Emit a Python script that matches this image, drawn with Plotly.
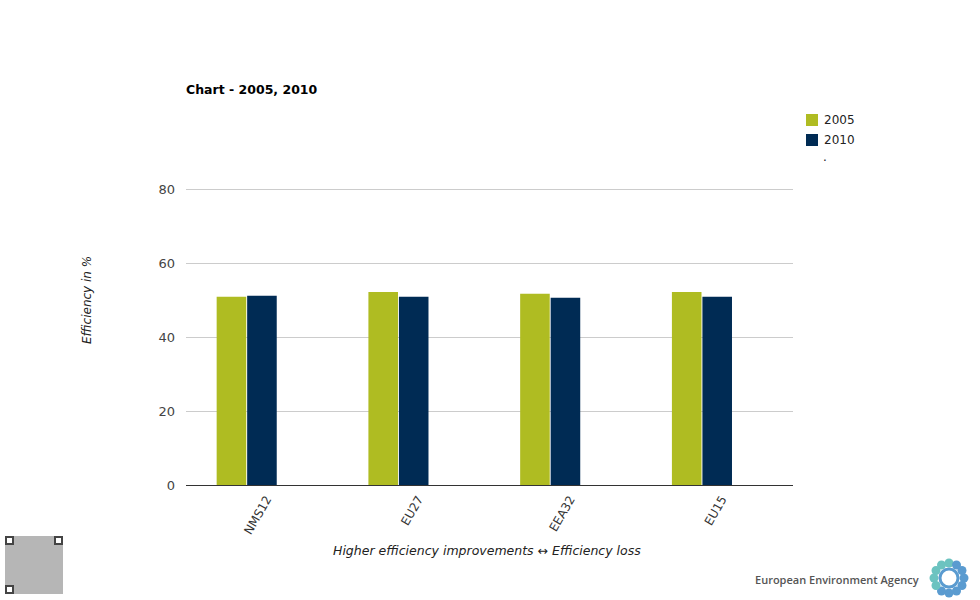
import math
import plotly.graph_objects as go

categories = ["NMS12", "EU27", "EEA32", "EU15"]
values_2005 = [50.9, 52.2, 51.7, 52.2]
values_2010 = [51.2, 50.9, 50.6, 50.9]
series_names = ["2005", "2010"]
colors = ["#afbc22", "#002b54"]
y_ticks = [0, 20, 40, 60, 80]

FONT = "DejaVu Sans"

# plot area in pixels
L, R, T, B = 186, 793, 188, 485
W, H = R - L, B - T


def px(x):
    return (x - L) / W


def py(y):
    return (B - y) / H


fig = go.Figure()
for name, vals, col in zip(series_names, [values_2005, values_2010], colors):
    fig.add_trace(go.Bar(x=categories, y=vals, name=name, marker_color=col,
                         marker_line_width=0, showlegend=False))

shift = 20 / (W / 4)  # tick labels sit ~20px right of bar-group centres
fig.update_layout(
    width=980, height=600,
    margin=dict(l=L, r=980 - R, t=T, b=600 - B),
    paper_bgcolor="white", plot_bgcolor="white",
    font=dict(family=FONT, size=12, color="#333333"),
    barmode="group", bargap=0.598, bargroupgap=0.03,
    showlegend=False,
    xaxis=dict(type="category", range=[-0.4, 3.6], showgrid=False,
               showline=True, linecolor="#333333", linewidth=1,
               ticks="", showticklabels=False),
    xaxis2=dict(overlaying="x", anchor="y", side="bottom", type="linear",
                range=[-0.4 - shift, 3.6 - shift], tickvals=list(range(len(categories))),
                ticktext=categories, showgrid=False, showline=False, zeroline=False,
                ticks="", tickangle=-60, ticklabelstandoff=4,
                tickfont=dict(family=FONT, size=12, color="#333333")),
    yaxis=dict(range=[0, 80.3], tickvals=y_ticks, showgrid=True,
               gridcolor="#cccccc", gridwidth=1, zeroline=False, showline=False,
               ticks="", ticklabelstandoff=10,
               tickfont=dict(family=FONT, size=13, color="#444444")),
)
# invisible trace to activate xaxis2
fig.add_trace(go.Scatter(x=[0], y=[0], xaxis="x2", mode="markers",
                         marker=dict(opacity=0), hoverinfo="skip", showlegend=False))

# Title
fig.add_annotation(text="<b>Chart - 2005, 2010</b>", xref="paper", yref="paper",
                   x=px(184), y=py(89), xanchor="left", yanchor="middle",
                   showarrow=False, font=dict(family=FONT, size=12.5, color="#000000"))
# Axis titles
fig.add_annotation(text="<i>Efficiency in %</i>", xref="paper", yref="paper",
                   x=px(87), y=py(300), textangle=-90,
                   xanchor="center", yanchor="middle", showarrow=False,
                   font=dict(family=FONT, size=12, color="#222222"))
fig.add_annotation(text="<i>Higher efficiency improvements ↔ Efficiency loss</i>",
                   xref="paper", yref="paper", x=px(487), y=py(550),
                   xanchor="center", yanchor="middle", showarrow=False,
                   font=dict(family=FONT, size=12.5, color="#222222"))

shapes = []
# Legend
legend_rows = [120, 140]
for name, col, yy in zip(series_names, colors, legend_rows):
    shapes.append(dict(type="rect", xref="paper", yref="paper",
                       x0=px(806), x1=px(818), y0=py(yy + 6), y1=py(yy - 6),
                       fillcolor=col, line=dict(width=0)))
    fig.add_annotation(text=name, xref="paper", yref="paper", x=px(822), y=py(yy),
                       xanchor="left", yanchor="middle", showarrow=False,
                       font=dict(family=FONT, size=12, color="#222222"))
fig.add_annotation(text=".", xref="paper", yref="paper", x=px(821), y=py(157),
                   xanchor="left", yanchor="middle", showarrow=False,
                   font=dict(family=FONT, size=12, color="#222222"))

# EEA footer text
fig.add_annotation(text="European Environment Agency", xref="paper", yref="paper",
                   x=px(921), y=py(579), xanchor="right", yanchor="middle",
                   showarrow=False,
                   font=dict(family="Open Sans", size=11, color="#555555", weight=600))

# Simple logo: petals around a ring
cx, cy = 949, 578
for k in range(12):
    a = 2 * math.pi * k / 12
    ppx, ppy = cx + 15 * math.cos(a), cy + 15 * math.sin(a)
    col = "#6cc3c0" if (math.cos(a) < 0.3 and math.sin(a) < 0.6) else "#5a9bd0"
    shapes.append(dict(type="circle", xref="paper", yref="paper",
                       x0=px(ppx - 4.5), x1=px(ppx + 4.5),
                       y0=py(ppy + 4.5), y1=py(ppy - 4.5),
                       fillcolor=col, line=dict(width=0), layer="above"))
shapes.append(dict(type="circle", xref="paper", yref="paper",
                   x0=px(cx - 9), x1=px(cx + 9), y0=py(cy + 9), y1=py(cy - 9),
                   fillcolor="white", line=dict(color="#5a9bd0", width=3)))

# QR-like placeholder
shapes.append(dict(type="rect", xref="paper", yref="paper",
                   x0=px(5), x1=px(63), y0=py(594), y1=py(536),
                   fillcolor="rgba(110,110,110,0.5)", line=dict(width=0)))
for (qx, qy) in [(5, 536), (54, 536), (5, 585)]:
    shapes.append(dict(type="rect", xref="paper", yref="paper",
                       x0=px(qx + 1), x1=px(qx + 8), y0=py(qy + 8), y1=py(qy + 1),
                       fillcolor="white", line=dict(color="#444444", width=2)))
fig.update_layout(shapes=shapes)

fig.write_html("out.html")
